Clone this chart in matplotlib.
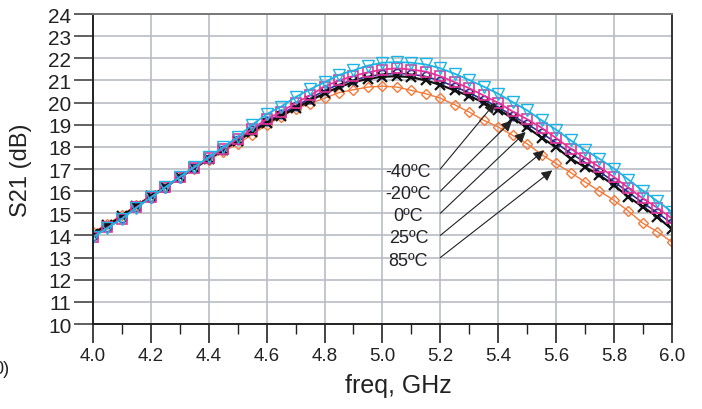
import matplotlib.pyplot as plt
import numpy as np
from matplotlib.ticker import MultipleLocator

plt.rcParams['font.family'] = ['Liberation Sans', 'DejaVu Sans']

freq = [4.00, 4.05, 4.10, 4.15, 4.20, 4.25, 4.30, 4.35, 4.40, 4.45,
        4.50, 4.55, 4.60, 4.65, 4.70, 4.75, 4.80, 4.85, 4.90, 4.95,
        5.00, 5.05, 5.10, 5.15, 5.20, 5.25, 5.30, 5.35, 5.40, 5.45,
        5.50, 5.55, 5.60, 5.65, 5.70, 5.75, 5.80, 5.85, 5.90, 5.95, 6.00]

# S21 (dB) per temperature
s21_m40 = [13.92, 14.33, 14.76, 15.25, 15.72, 16.18, 16.65, 17.10, 17.54, 17.99,
           18.45, 19.00, 19.48, 19.82, 20.25, 20.60, 20.92, 21.25, 21.45, 21.67,
           21.80, 21.83, 21.80, 21.72, 21.55, 21.30, 21.02, 20.72, 20.40, 20.02,
           19.65, 19.20, 18.78, 18.30, 17.86, 17.46, 17.02, 16.52, 16.02, 15.55, 15.07]
s21_m20 = [13.94, 14.36, 14.76, 15.28, 15.72, 16.17, 16.62, 17.06, 17.48, 17.92,
           18.36, 18.82, 19.25, 19.58, 19.98, 20.32, 20.72, 21.00, 21.20, 21.37,
           21.49, 21.55, 21.49, 21.40, 21.19, 20.92, 20.65, 20.32, 19.99, 19.60,
           19.25, 18.86, 18.40, 17.92, 17.50, 17.09, 16.64, 16.15, 15.67, 15.25, 14.77]
s21_0 = [13.97, 14.37, 14.77, 15.27, 15.71, 16.16, 16.60, 17.03, 17.45, 17.88,
         18.30, 18.74, 19.15, 19.47, 19.85, 20.18, 20.55, 20.82, 21.02, 21.18,
         21.28, 21.32, 21.28, 21.18, 20.98, 20.72, 20.44, 20.12, 19.80, 19.40,
         19.03, 18.63, 18.18, 17.72, 17.30, 16.88, 16.43, 15.95, 15.47, 15.03, 14.54]
s21_25 = [14.08, 14.47, 14.86, 15.33, 15.76, 16.20, 16.63, 17.05, 17.46, 17.86,
          18.27, 18.68, 19.08, 19.40, 19.75, 20.08, 20.42, 20.70, 20.92, 21.07,
          21.17, 21.19, 21.15, 21.00, 20.80, 20.55, 20.30, 20.00, 19.68, 19.30,
          18.88, 18.42, 17.98, 17.47, 17.09, 16.72, 16.27, 15.74, 15.29, 14.84, 14.28]
s21_85 = [14.15, 14.52, 14.92, 15.38, 15.80, 16.22, 16.62, 17.02, 17.40, 17.78,
          18.15, 18.55, 19.00, 19.35, 19.72, 19.95, 20.20, 20.45, 20.58, 20.70,
          20.74, 20.70, 20.55, 20.40, 20.20, 19.90, 19.57, 19.20, 18.90, 18.52,
          18.14, 17.65, 17.25, 16.84, 16.42, 16.00, 15.59, 15.10, 14.55, 14.17, 13.70]

labels = ['-40\u00baC', '-20\u00baC', '0\u00baC', '25\u00baC', '85\u00baC']
label_y = [16.9, 15.9, 14.9, 13.9, 12.88]
arrow_start_y = [17, 16, 15, 14, 13]
arrow_end = [(5.39, 20.0), (5.448, 19.19), (5.495, 18.67), (5.559, 17.84), (5.587, 16.94)]

fig = plt.figure(figsize=(7.02, 4.10), dpi=100)
ax = fig.add_axes([0.1325, 0.2073, 0.8245, 0.7561])

ax.plot(freq, s21_85, color='#f47a3a', lw=1.0, marker='D', ms=5.5, mfc='none', mew=1.0)
ax.plot(freq, s21_0, color='#2e3192', lw=1.2, marker='o', ms=6, mfc='none', mew=1.2)
ax.plot(freq, s21_25, color='#111111', lw=1.6, marker='x', ms=7, mew=1.6)
ax.plot(freq, s21_m20, color='#e5339a', lw=1.3, marker='s', ms=7.5, mfc='none', mew=1.2)
ax.plot(freq, s21_m40, color='#1cb4e6', lw=1.3, marker='v', ms=8, mfc='none', mew=1.0)

for i in range(len(labels)):
    ax.text(5.09, label_y[i], labels[i], fontsize=13, ha='center', va='center', color='#222222')
    ax.annotate('', xy=arrow_end[i], xytext=(5.2, arrow_start_y[i]),
                arrowprops=dict(arrowstyle='-|>', color='#222222', lw=0.8,
                                mutation_scale=16, shrinkA=0, shrinkB=0))

ax.set_xlim(4.0, 6.0)
ax.set_ylim(10, 24)
ax.xaxis.set_major_locator(MultipleLocator(0.2))
ax.xaxis.set_minor_locator(MultipleLocator(0.1))
ax.yaxis.set_major_locator(MultipleLocator(1))
ax.set_xticklabels(['%.1f' % v for v in ax.get_xticks()])
ax.grid(True, which='major', color='#b9bcc3', lw=1.2)
ax.set_axisbelow(True)

ax.tick_params(axis='y', which='major', direction='out', length=13.5, width=1.2,
               color='#444444', labelsize=15, pad=2, labelcolor='#222222')
ax.tick_params(axis='x', which='major', direction='out', length=13.5, width=1.2,
               color='#222222', labelsize=13.5, pad=3, labelcolor='#222222')
ax.tick_params(axis='x', which='minor', direction='out', length=7, width=1.0, color='#222222')

ax.spines['left'].set_color('#222222')
ax.spines['bottom'].set_color('#222222')
ax.spines['top'].set_color('#777777')
ax.spines['right'].set_color('#333333')
for s in ax.spines.values():
    s.set_linewidth(1.4)

fig.text(398 / 702, 1 - 386 / 410, 'freq, GHz', fontsize=18, ha='center', va='center', color='#222222')
fig.text(21 / 702, 1 - 170 / 410, 'S21 (dB)', fontsize=17, rotation=90, ha='center', va='center', color='#222222')
fig.text(9 / 702, 1 - 370 / 410, '0)', fontsize=13, ha='right', va='center', color='#222222')

plt.savefig('out.png', dpi=100)
